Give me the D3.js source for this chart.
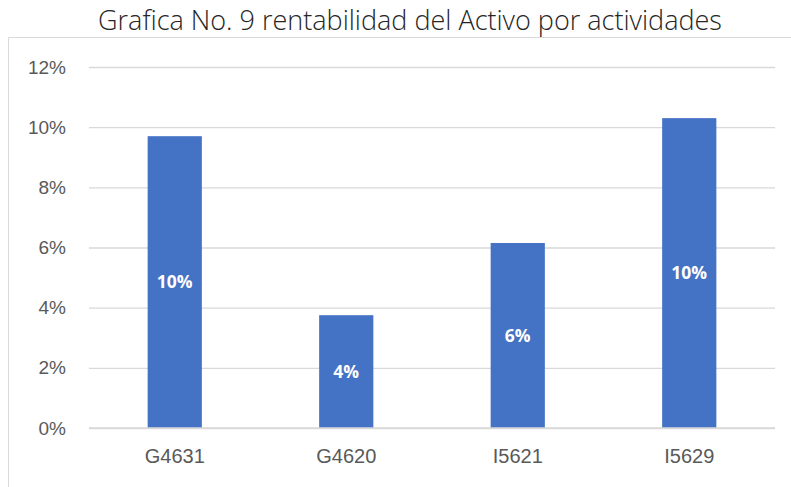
<!DOCTYPE html>
<html>
<head>
<meta charset="utf-8">
<script src="https://cdn.jsdelivr.net/npm/d3@7"></script>
<style>
  body { margin: 0; background: #fff; }
  svg { display: block; font-family: "Open Sans", Lato, sans-serif; }
</style>
</head>
<body>
<div id="chart"></div>
<script>
const categories = ['G4631', 'G4620', 'I5621', 'I5629'];
const values = [0.097, 0.0375, 0.0615, 0.103];
const yTicks = [0, 0.02, 0.04, 0.06, 0.08, 0.10, 0.12];
const title = 'Grafica No. 9 rentabilidad del Activo por actividades';

const width = 791, height = 487;
const margins = {top: 67, right: 16, bottom: 59, left: 89};

const svg = d3.select('#chart').append('svg')
  .attr('width', width)
  .attr('height', height);

// chart frame (only left and top edges are visible in the crop)
svg.append('path')
  .attr('d', `M8.5,${height} V37.5 H${width}`)
  .attr('fill', 'none')
  .attr('stroke', '#d9d9d9')
  .attr('stroke-width', 1);

svg.append('text')
  .attr('x', 410)
  .attr('y', 30)
  .attr('text-anchor', 'middle')
  .style('font-size', '27px')
  .style('font-weight', 300)
  .attr('fill', '#262626')
  .text(title);

const x = d3.scaleBand()
  .domain(categories)
  .range([margins.left, width - margins.right])
  .paddingInner(0.684)
  .paddingOuter(0.342);

const y = d3.scaleLinear()
  .domain([0, 0.12])
  .range([height - margins.bottom, margins.top]);

// gridlines + y labels
const yAxis = svg.append('g')
  .attr('transform', `translate(${margins.left},0)`)
  .call(d3.axisLeft(y).tickValues(yTicks).tickFormat(d3.format('.0%'))
    .tickSize(-(width - margins.right - margins.left)).tickPadding(23));
yAxis.select('.domain').remove();
yAxis.selectAll('.tick line').attr('stroke', '#d9d9d9').attr('stroke-width', 1.3);
yAxis.selectAll('.tick text')
  .attr('fill', '#595959')
  .style('font-size', '19px');

// bars
svg.selectAll('rect.bar')
  .data(values)
  .enter()
  .append('rect')
    .attr('class', 'bar')
    .attr('x', (d, i) => x(categories[i]))
    .attr('width', x.bandwidth())
    .attr('y', d => y(d))
    .attr('height', d => y(0) - y(d))
    .attr('fill', '#4472c4');

// baseline
svg.append('line')
  .attr('x1', margins.left).attr('x2', width - margins.right)
  .attr('y1', y(0)).attr('y2', y(0))
  .attr('stroke', '#d9d9d9').attr('stroke-width', 1.3);

// data labels
svg.selectAll('text.lbl')
  .data(values)
  .enter()
  .append('text')
    .attr('class', 'lbl')
    .attr('x', (d, i) => x(categories[i]) + x.bandwidth() / 2)
    .attr('y', d => (y(d) + y(0)) / 2)
    .attr('dy', '0.35em')
    .attr('text-anchor', 'middle')
    .attr('fill', '#fff')
    .style('font-size', '17.5px')
    .style('font-weight', 'bold')
    .text(d => d3.format('.0%')(d));

// category labels
const xAxis = svg.append('g')
  .attr('transform', `translate(0,${y(0)})`)
  .call(d3.axisBottom(x).tickSize(0).tickPadding(21));
xAxis.select('.domain').remove();
xAxis.selectAll('.tick text')
  .attr('fill', '#595959')
  .style('font-size', '20px');
</script>
</body>
</html>
